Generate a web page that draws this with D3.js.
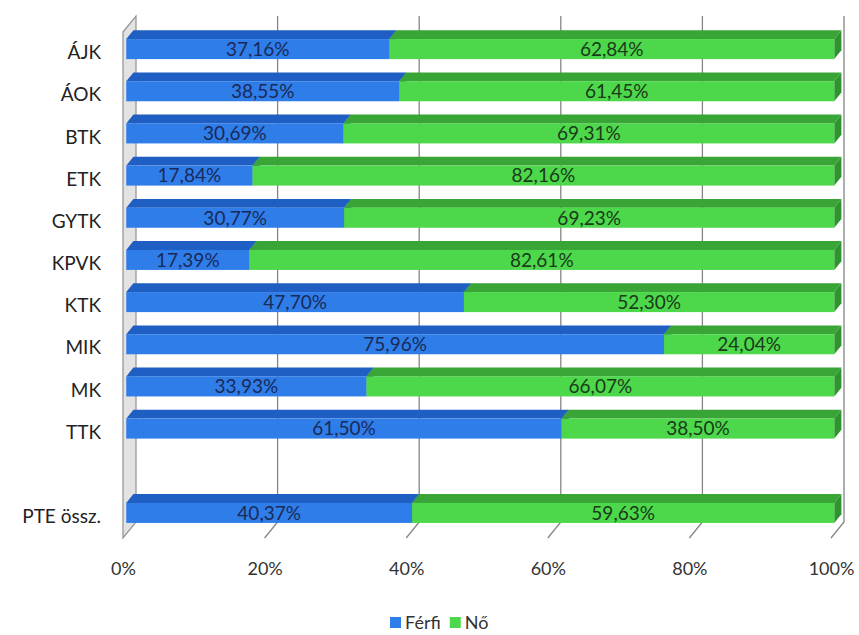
<!DOCTYPE html>
<html>
<head>
<meta charset="utf-8">
<script src="https://cdn.jsdelivr.net/npm/d3@7"></script>
<style>
  body { margin: 0; background: #fff; }
  text { font-family: Lato, "Open Sans", sans-serif; }
</style>
</head>
<body>
<div id="chart"></div>
<script>
// categories (the empty one is the gap before the total)
var categories = ["ÁJK", "ÁOK", "BTK", "ETK", "GYTK", "KPVK", "KTK", "MIK", "MK", "TTK", " ", "PTE össz."];
var ferfi = [37.16, 38.55, 30.69, 17.84, 30.77, 17.39, 47.70, 75.96, 33.93, 61.50, null, 40.37];
var no    = [62.84, 61.45, 69.31, 82.16, 69.23, 82.61, 52.30, 24.04, 66.07, 38.50, null, 59.63];
var seriesNames = ["Férfi", "Nő"];
var xTicks = [0, 20, 40, 60, 80, 100];

var width = 859, height = 635;

// front plane of the 3d box
var plot = {left: 123, right: 831, top: 32, bottom: 538};
// depth of the box (towards the back, up and right)
var depthX = 13, depthY = -16;
var barFront = 0.25, barBack = 0.8;

var faceColors = {
  "Férfi": {front: "#2f7de9", top: "#1f5ec2", side: "#1b56b3"},
  "Nő":    {front: "#4cd84a", top: "#39a537", side: "#2f9430"}
};
var labelColors = {"Férfi": "#1a2a58", "Nő": "#1a3a1a"};

var rows = categories.map(function(c, i) {
  return {cat: c, "Férfi": ferfi[i], "Nő": no[i]};
});

var x = d3.scaleLinear().domain([0, 100]).range([plot.left, plot.right]);
var y = d3.scaleBand().domain(categories)
  .range([plot.top, plot.bottom])
  .paddingInner(0.525).paddingOuter(0.2625);

var stack = d3.stack().keys(seriesNames)
  .value(function(d, k) { return d[k] == null ? 0 : d[k]; });
var stacked = stack(rows);

var svg = d3.select("#chart").append("svg")
  .attr("width", width)
  .attr("height", height);

function off(f) { return [depthX * f, depthY * f]; }
function pts(list) { return list.map(function(p) { return p.join(","); }).join(" "); }

////////////// walls and grid //////////////
var back = off(1);

svg.append("polygon")
  .attr("points", pts([
    [plot.left, plot.top], [plot.left + back[0], plot.top + back[1]],
    [plot.left + back[0], plot.bottom + back[1]], [plot.left, plot.bottom]
  ]))
  .style("fill", "#e2e2e2")
  .style("stroke", "#999")
  .style("stroke-width", 1.3);

var grid = svg.append("g").attr("class", "grid");
xTicks.forEach(function(t) {
  if (t === 0) return;
  var bx = x(t) + back[0];
  grid.append("polyline")
    .attr("points", pts([
      [bx, plot.top + back[1]], [bx, plot.bottom + back[1]], [x(t), plot.bottom]
    ]))
    .style("fill", "none")
    .style("stroke", "#858585")
    .style("stroke-width", 1.3);
});

////////////// bars //////////////
var f0 = off(barFront), f1 = off(barBack);
var bars = svg.append("g").attr("class", "bars");

stacked.forEach(function(layer) {
  var col = faceColors[layer.key];
  layer.forEach(function(seg, i) {
    if (rows[i][layer.key] == null) return;
    var xa = x(seg[0]), xb = x(seg[1]);
    var y0 = y(rows[i].cat), y1 = y0 + y.bandwidth();
    var g = bars.append("g");
    g.append("polygon")
      .attr("points", pts([
        [xa + f0[0], y0 + f0[1]], [xa + f1[0], y0 + f1[1]],
        [xb + f1[0], y0 + f1[1]], [xb + f0[0], y0 + f0[1]]
      ]))
      .style("fill", col.top);
    g.append("polygon")
      .attr("points", pts([
        [xb + f0[0], y0 + f0[1]], [xb + f1[0], y0 + f1[1]],
        [xb + f1[0], y1 + f1[1]], [xb + f0[0], y1 + f0[1]]
      ]))
      .style("fill", col.side);
    g.append("rect")
      .attr("x", xa + f0[0])
      .attr("y", y0 + f0[1])
      .attr("width", xb - xa)
      .attr("height", y.bandwidth())
      .style("fill", col.front);
  });
});

////////////// data labels //////////////
var labels = svg.append("g").attr("class", "labels");
stacked.forEach(function(layer) {
  layer.forEach(function(seg, i) {
    var v = rows[i][layer.key];
    if (v == null) return;
    labels.append("text")
      .attr("x", (x(seg[0]) + x(seg[1])) / 2 + f0[0])
      .attr("y", y(rows[i].cat) + y.bandwidth() / 2 + f0[1])
      .attr("dy", "0.36em")
      .attr("text-anchor", "middle")
      .style("font-size", "19px")
      .style("fill", labelColors[layer.key])
      .text(v.toFixed(2).replace(".", ",") + "%");
  });
});

////////////// axes //////////////
var xAxis = d3.axisBottom(x)
  .tickValues(xTicks)
  .tickSize(0)
  .tickPadding(0)
  .tickFormat(function(d) { return d + "%"; });

svg.append("g")
  .attr("transform", "translate(0," + 562 + ")")
  .call(xAxis)
  .call(function(g) { g.select(".domain").remove(); })
  .selectAll("text")
  .attr("dy", "0.71em")
  .style("font-family", "Lato, sans-serif")
  .style("font-size", "18px")
  .style("fill", "#333");

var yAxis = d3.axisLeft(y).tickSize(0).tickPadding(0);
svg.append("g")
  .attr("transform", "translate(101,0)")
  .call(yAxis)
  .call(function(g) { g.select(".domain").remove(); })
  .selectAll("text")
  .style("font-family", "Lato, sans-serif")
  .style("font-size", "19px")
  .style("fill", "#222");

////////////// legend //////////////
var legend = svg.append("g").attr("class", "legend");
var lx = 390;
seriesNames.forEach(function(name) {
  legend.append("rect")
    .attr("x", lx).attr("y", 617)
    .attr("width", 11).attr("height", 11)
    .style("fill", faceColors[name].front);
  var t = legend.append("text")
    .attr("x", lx + 15).attr("y", 629)
    .style("font-size", "18px")
    .style("fill", "#333")
    .text(name);
  lx += 15 + t.node().getComputedTextLength() + 9;
});
</script>
</body>
</html>
